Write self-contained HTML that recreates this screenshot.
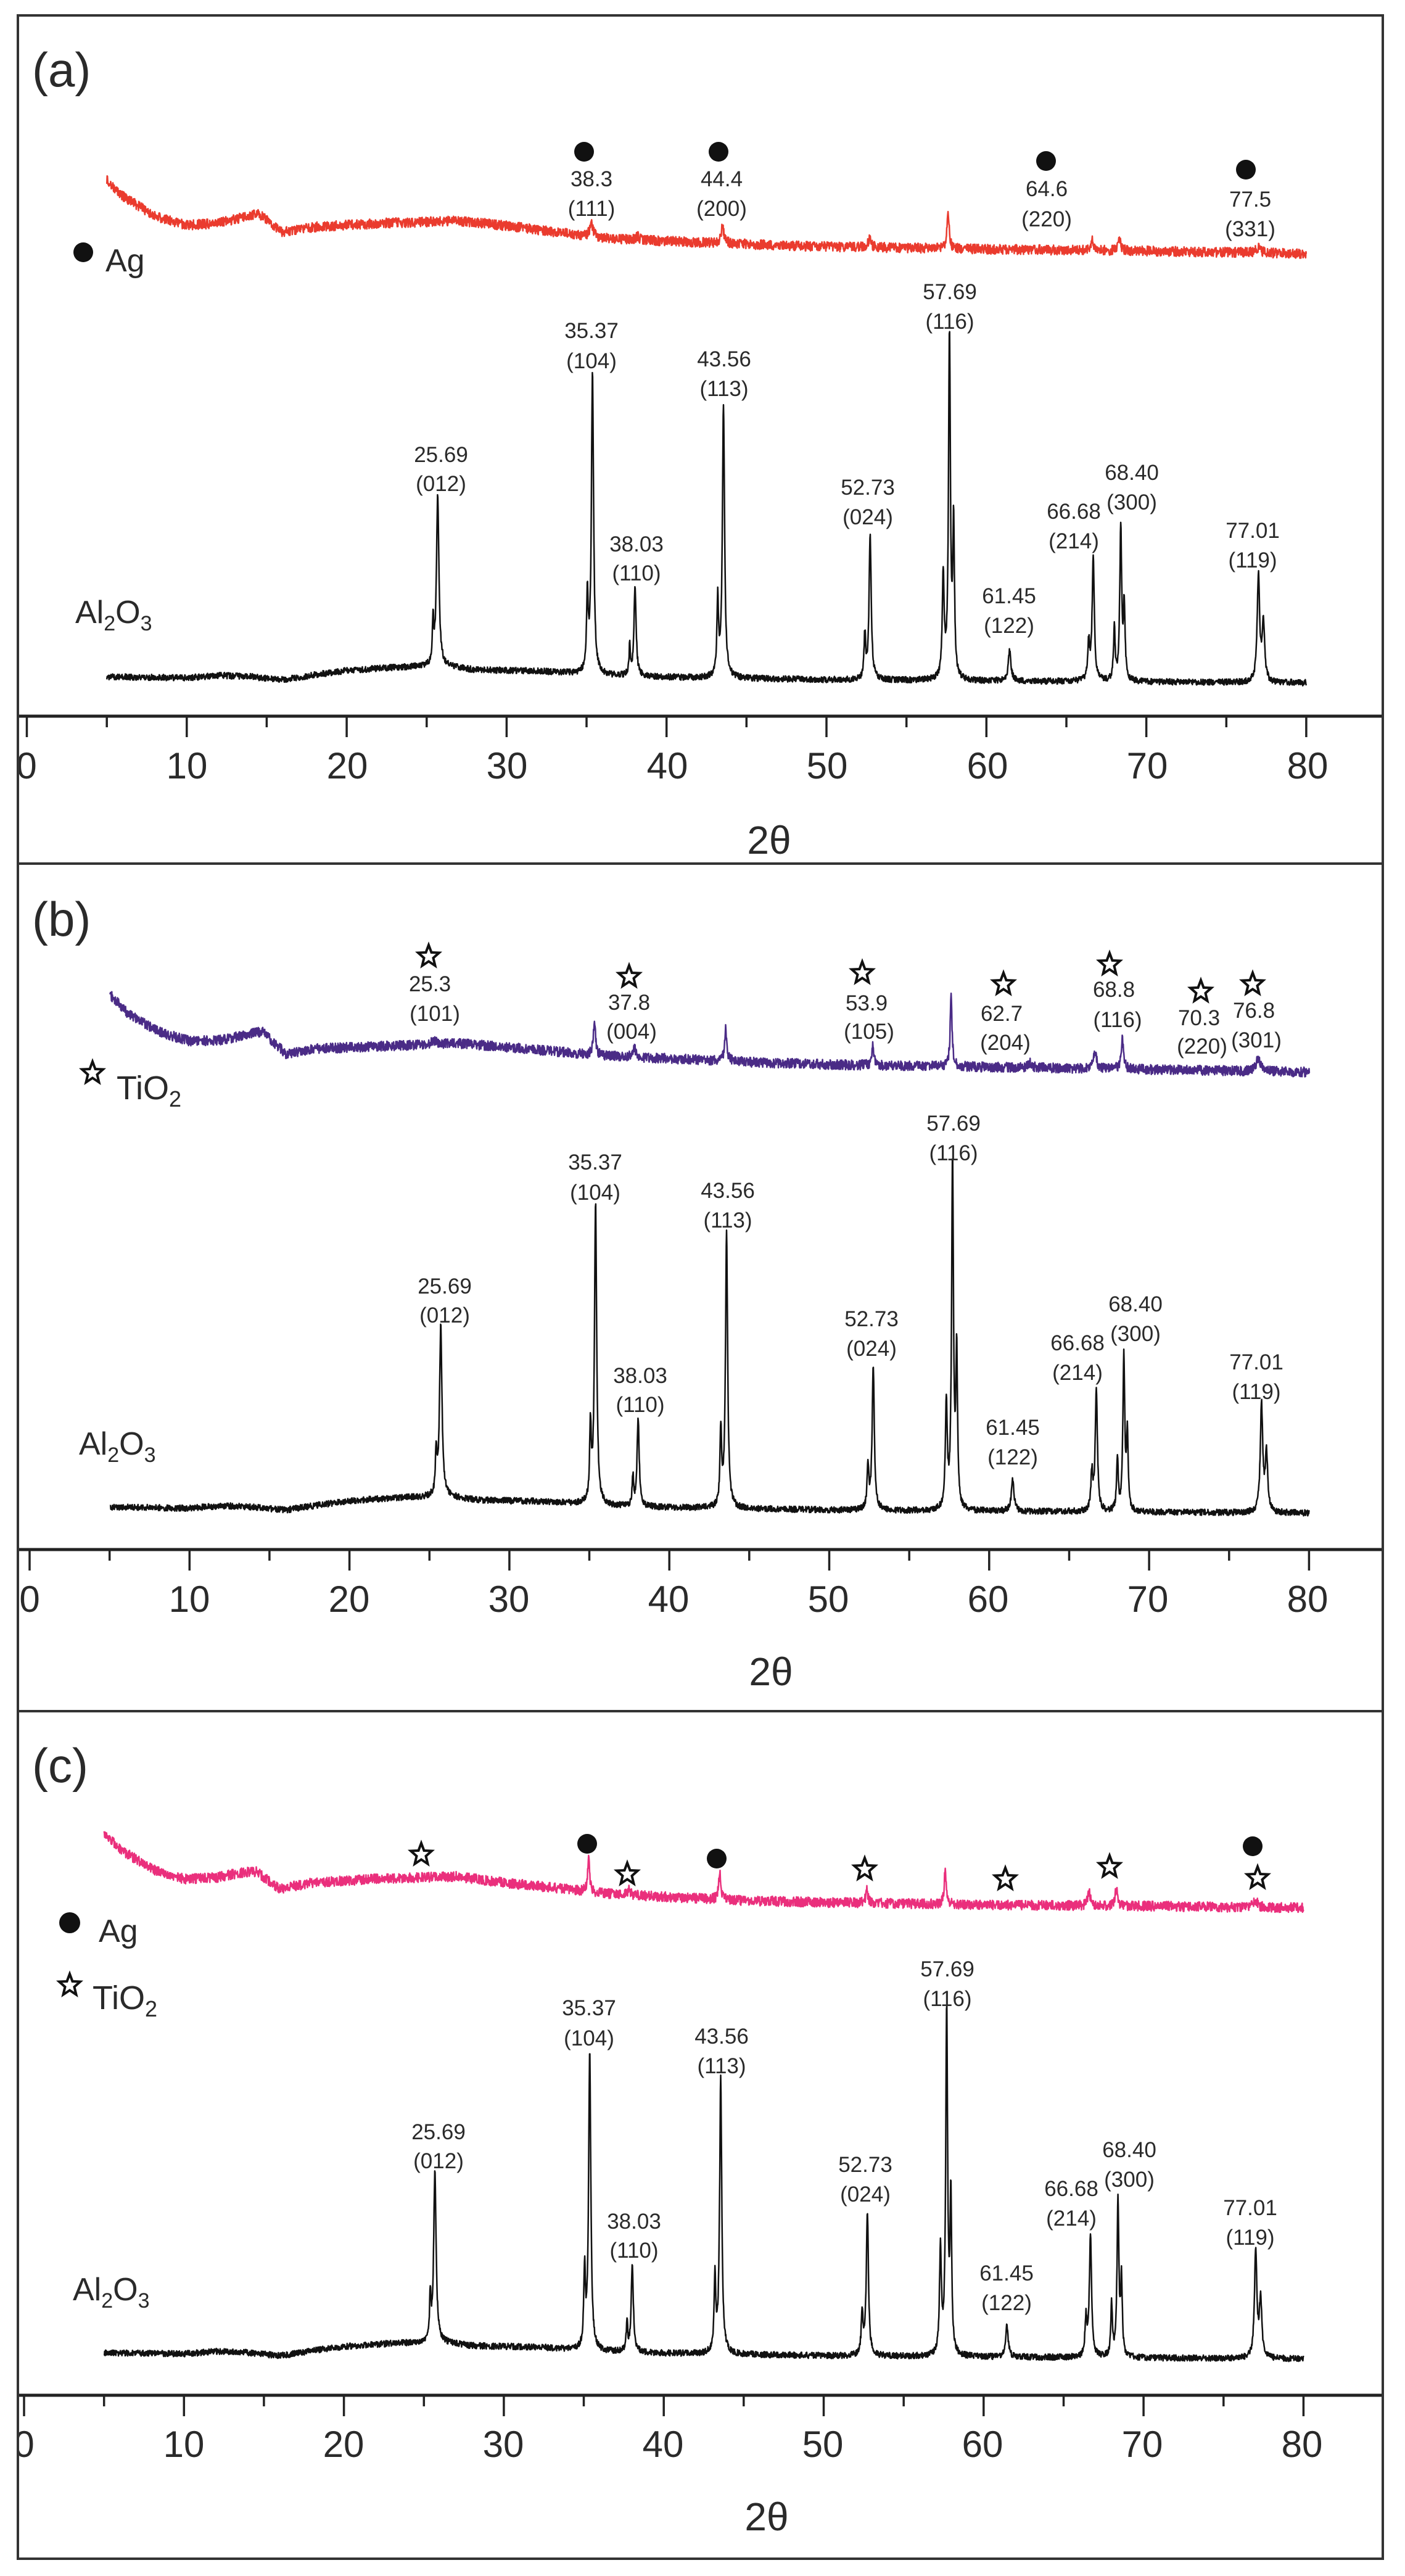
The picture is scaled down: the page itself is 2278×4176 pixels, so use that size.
<!DOCTYPE html>
<html><head><meta charset="utf-8"><style>
html,body{margin:0;padding:0;background:#fff;}
svg{display:block;}
text{font-family:"Liberation Sans",sans-serif;fill:#2a2a2a;}
.l{font-size:35px;text-anchor:middle;}
.t{font-size:60px;text-anchor:middle;}
</style></head><body>
<svg id="s" width="2278" height="4176" viewBox="0 0 2278 4176" xmlns="http://www.w3.org/2000/svg">
<defs>
<g id="star"><polygon points="0,-18 4.5,-6 17,-5.5 7.5,3 10.5,15.5 0,8.5 -10.5,15.5 -7.5,3 -17,-5.5 -4.5,-6" fill="none" stroke="#111" stroke-width="4" stroke-linejoin="miter"/></g>
<g id="blk">
<text class="l" x="715" y="749">25.69</text><text class="l" x="715" y="796">(012)</text>
<text class="l" x="959" y="548">35.37</text><text class="l" x="959" y="597">(104)</text>
<text class="l" x="1032" y="894">38.03</text><text class="l" x="1032" y="941">(110)</text>
<text class="l" x="1174" y="594">43.56</text><text class="l" x="1174" y="642">(113)</text>
<text class="l" x="1407" y="802">52.73</text><text class="l" x="1407" y="850">(024)</text>
<text class="l" x="1540" y="485">57.69</text><text class="l" x="1540" y="533">(116)</text>
<text class="l" x="1636" y="978">61.45</text><text class="l" x="1636" y="1026">(122)</text>
<text class="l" x="1741" y="841">66.68</text><text class="l" x="1741" y="889">(214)</text>
<text class="l" x="1835" y="778">68.40</text><text class="l" x="1835" y="826">(300)</text>
<text class="l" x="2031" y="872">77.01</text><text class="l" x="2031" y="920">(119)</text>
<text x="122" y="1010" style="font-size:52px">Al<tspan style="font-size:34px" dy="12">2</tspan><tspan dy="-12">O</tspan><tspan style="font-size:34px" dy="12">3</tspan></text>
</g>
</defs>
<g id="curves"></g>
<g id="ticks"></g>
<!-- panel a -->
<text x="52" y="140" style="font-size:78px">(a)</text>
<circle cx="947" cy="246" r="16" fill="#111"/><circle cx="1165" cy="246" r="16" fill="#111"/><circle cx="1696" cy="261" r="16" fill="#111"/><circle cx="2020" cy="275" r="16" fill="#111"/>
<text class="l" x="959" y="302">38.3</text><text class="l" x="959" y="350">(111)</text>
<text class="l" x="1170" y="302">44.4</text><text class="l" x="1170" y="350">(200)</text>
<text class="l" x="1697" y="318">64.6</text><text class="l" x="1697" y="367">(220)</text>
<text class="l" x="2027" y="335">77.5</text><text class="l" x="2027" y="383">(331)</text>
<circle cx="135" cy="409" r="16" fill="#111"/>
<text x="171" y="440" style="font-size:52px">Ag</text>
<use href="#blk"/>
<text class="t" x="43" y="1262">0</text><text class="t" x="303" y="1262">10</text><text class="t" x="563" y="1262">20</text><text class="t" x="822" y="1262">30</text><text class="t" x="1082" y="1262">40</text><text class="t" x="1341" y="1262">50</text><text class="t" x="1601" y="1262">60</text><text class="t" x="1860" y="1262">70</text><text class="t" x="2120" y="1262">80</text>
<text class="t" x="1247" y="1384" style="font-size:64px">2θ</text>
<!-- panel b -->
<text x="52" y="1517" style="font-size:78px">(b)</text>
<use href="#star" x="695" y="1550"/><use href="#star" x="1020" y="1583"/><use href="#star" x="1398" y="1577"/><use href="#star" x="1627" y="1595"/><use href="#star" x="1799" y="1563"/><use href="#star" x="1947" y="1607"/><use href="#star" x="2031" y="1595"/>
<text class="l" x="697" y="1607">25.3</text><text class="l" x="705" y="1655">(101)</text>
<text class="l" x="1020" y="1637">37.8</text><text class="l" x="1024" y="1684">(004)</text>
<text class="l" x="1405" y="1638">53.9</text><text class="l" x="1409" y="1684">(105)</text>
<text class="l" x="1624" y="1655">62.7</text><text class="l" x="1630" y="1702">(204)</text>
<text class="l" x="1806" y="1616">68.8</text><text class="l" x="1812" y="1665">(116)</text>
<text class="l" x="1944" y="1662">70.3</text><text class="l" x="1949" y="1708">(220)</text>
<text class="l" x="2033" y="1650">76.8</text><text class="l" x="2037" y="1698">(301)</text>
<use href="#star" x="150" y="1739"/>
<text x="189" y="1782" style="font-size:54px">TiO<tspan style="font-size:36px" dy="12">2</tspan></text>
<use href="#blk" x="6" y="1348"/>
<text class="t" x="48" y="2613">0</text><text class="t" x="307" y="2613">10</text><text class="t" x="566" y="2613">20</text><text class="t" x="825" y="2613">30</text><text class="t" x="1084" y="2613">40</text><text class="t" x="1343" y="2613">50</text><text class="t" x="1602" y="2613">60</text><text class="t" x="1861" y="2613">70</text><text class="t" x="2120" y="2613">80</text>
<text class="t" x="1250" y="2732" style="font-size:64px">2θ</text>
<!-- panel c -->
<text x="52" y="2889" style="font-size:78px">(c)</text>
<circle cx="952" cy="2989" r="16" fill="#111"/><circle cx="1162" cy="3013" r="16" fill="#111"/><circle cx="2031" cy="2993" r="16" fill="#111"/>
<use href="#star" x="683" y="3006"/><use href="#star" x="1017" y="3038"/><use href="#star" x="1402" y="3030"/><use href="#star" x="1630" y="3046"/><use href="#star" x="1799" y="3026"/><use href="#star" x="2039" y="3044"/>
<circle cx="113" cy="3117" r="17" fill="#111"/>
<text x="160" y="3148" style="font-size:52px">Ag</text>
<use href="#star" x="113" y="3218"/>
<text x="150" y="3257" style="font-size:54px">TiO<tspan style="font-size:36px" dy="12">2</tspan></text>
<use href="#blk" x="-4" y="2719"/>
<text class="t" x="39" y="3983">0</text><text class="t" x="298" y="3983">10</text><text class="t" x="557" y="3983">20</text><text class="t" x="816" y="3983">30</text><text class="t" x="1075" y="3983">40</text><text class="t" x="1334" y="3983">50</text><text class="t" x="1593" y="3983">60</text><text class="t" x="1852" y="3983">70</text><text class="t" x="2111" y="3983">80</text>
<text class="t" x="1243" y="4102" style="font-size:64px">2θ</text>
<!-- frame -->
<rect x="0" y="0" width="27" height="4176" fill="#fff"/>
<g stroke="#333" stroke-width="4" fill="none">
<rect x="29" y="25" width="2213" height="4123"/>
<line x1="29" y1="1400" x2="2242" y2="1400"/>
<line x1="29" y1="2774" x2="2242" y2="2774"/>
</g>
</svg>
<script>
(function(){
var s=1234567;function r(){s=(s*1103515245+12345)%2147483648;return s/2147483648;}
function interp(p,x){for(var i=0;i<p.length-1;i++){if(x<=p[i+1][0]){var t=(x-p[i][0])/(p[i+1][0]-p[i][0]);return p[i][1]+t*(p[i+1][1]-p[i][1]);}}return p[p.length-1][1];}
function curve(x0,dy,pts,pk,nz,col,sw){var d="";for(var x=5;x<=80.001;x+=0.02){var y=interp(pts,x)+dy;for(var k=0;k<pk.length;k++){var u=(x-pk[k][0])/pk[k][2];y-=pk[k][1]/(1+u*u);}y+=nz*(r()-0.5)*2;var X=x0+x*25.93;d+=(d?"L":"M")+X.toFixed(1)+","+y.toFixed(1);}
return '<path d="'+d+'" fill="none" stroke="'+col+'" stroke-width="'+sw+'" stroke-linejoin="round"/>';}
var bpts=[[5,1097],[10,1099],[12,1095],[14,1097],[16,1102],[18,1094],[20,1087],[23,1082],[26,1080],[28,1086],[32,1088],[36,1095],[40,1098],[50,1102],[60,1104],[80,1107]];
var bpk=[[25.69,277,0.09],[25.4,70,0.05],[35.37,488,0.08],[35.05,122,0.06],[38.03,142,0.08],[37.7,48,0.05],[43.56,444,0.08],[43.2,122,0.06],[52.73,234,0.08],[52.4,71,0.06],[57.69,560,0.07],[57.3,170,0.07],[57.95,250,0.06],[61.45,50,0.1],[66.68,199,0.08],[66.4,60,0.07],[68.40,252,0.07],[68.0,83,0.06],[68.62,120,0.06],[77.01,174,0.09],[77.32,95,0.09]];
var h="";
h+=curve(43.5,0,bpts,bpk,5,"#111",2.5);
h+=curve(48.5,1346,bpts,bpk,5,"#111",2.5);
h+=curve(39,2717,bpts,bpk,5,"#111",2.5);
var rpts=[[5,292],[6,318],[8,350],[10,365],[12,362],[13.5,352],[14.5,347],[16,376],[18,368],[22,362],[27,358],[30,366],[33,376],[36,386],[40,391],[45,396],[50,400],[60,404],[70,407],[80,411]];
var rpk=[[35.3,22,0.12],[38.2,6,0.1],[43.5,26,0.12],[52.7,15,0.1],[57.6,62,0.08],[66.6,16,0.1],[68.3,24,0.1],[77,9,0.15]];
h+=curve(43.5,0,rpts,rpk,8,"#ea3b2e",2.5);
var ppts=[[5,1612],[6,1640],[8,1672],[10,1688],[12,1686],[13.5,1678],[14.5,1672],[16,1708],[18,1700],[22,1696],[27,1692],[30,1698],[33,1705],[36,1712],[40,1716],[45,1722],[50,1726],[60,1730],[70,1734],[80,1738]];
var ppk=[[35.3,55,0.08],[37.8,15,0.1],[43.5,52,0.08],[52.7,32,0.08],[57.6,112,0.07],[62.5,8,0.15],[66.6,30,0.1],[68.3,48,0.09],[76.8,22,0.15],[25.3,5,0.3]];
h+=curve(48.5,0,ppts,ppk,8,"#4a2b86",2.5);
var kpts=[[5,2970],[6,2998],[8,3030],[10,3046],[12,3044],[13.5,3036],[14.5,3034],[16,3062],[18,3052],[22,3046],[27,3042],[30,3052],[33,3060],[36,3069],[40,3075],[45,3081],[50,3084],[60,3088],[70,3090],[80,3093]];
var kpk=[[35.3,52,0.08],[37.8,8,0.1],[43.5,42,0.08],[52.7,22,0.08],[57.6,58,0.07],[66.6,22,0.1],[68.3,30,0.09],[77,12,0.15]];
h+=curve(39,0,kpts,kpk,8,"#ea2f7c",2.5);
document.getElementById("curves").innerHTML=h;
var t="";
[[43.5,1161],[48,2512],[39,3883]].forEach(function(a){
t+='<line x1="29" y1="'+a[1]+'" x2="2242" y2="'+a[1]+'" stroke="#222" stroke-width="5"/>';
for(var v=0;v<=80;v+=5){var X=a[0]+v*25.93;var L=(v%10==0)?34:18;t+='<line x1="'+X.toFixed(1)+'" y1="'+a[1]+'" x2="'+X.toFixed(1)+'" y2="'+(a[1]+L)+'" stroke="#222" stroke-width="3.5"/>';}
});
document.getElementById("ticks").innerHTML=t;
})();
</script>
</body></html>
